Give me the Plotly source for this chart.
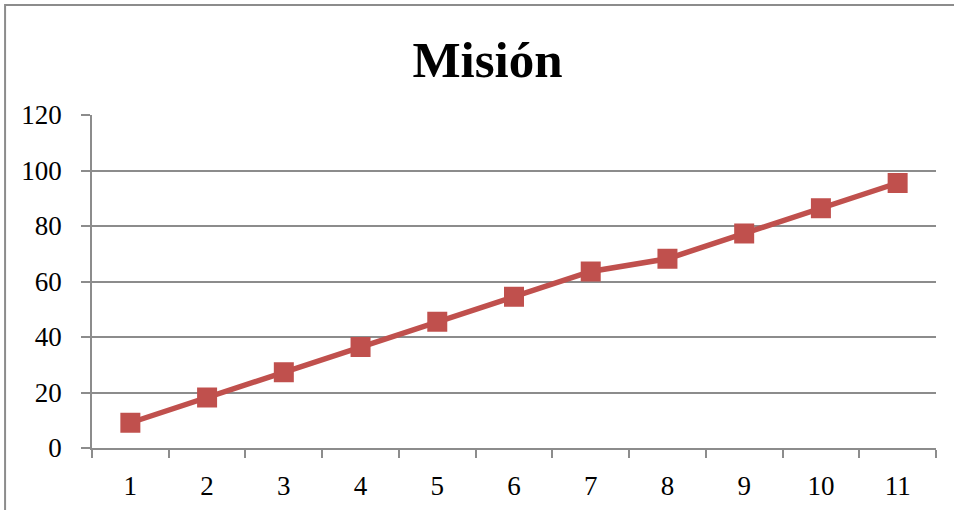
import plotly.graph_objects as go

# Mission progress by period
periods = ["1", "2", "3", "4", "5", "6", "7", "8", "9", "10", "11"]
mision = [9.1, 18.2, 27.3, 36.4, 45.5, 54.5, 63.6, 68.2, 77.3, 86.4, 95.5]
y_ticks = [0, 20, 40, 60, 80, 100, 120]

LINE_RED = "#C0504D"
GRID = "#8c8c8c"
SERIF = "Liberation Serif, Cambria, DejaVu Serif, serif"

fig = go.Figure(
    go.Scatter(
        x=periods,
        y=mision,
        mode="lines+markers",
        line=dict(color=LINE_RED, width=5.5),
        marker=dict(symbol="square", size=20, color=LINE_RED),
        showlegend=False,
        hoverinfo="x+y",
    )
)

fig.update_layout(
    width=954,
    height=510,
    margin=dict(l=92, r=18, t=115, b=62, autoexpand=False),
    paper_bgcolor="white",
    plot_bgcolor="white",
    title=dict(
        text="<b>Misión</b>",
        x=0.511,
        xanchor="center",
        y=0.885,
        yanchor="middle",
        font=dict(family=SERIF, size=51, color="black"),
    ),
    font=dict(family=SERIF, size=27, color="black"),
    # chart frame (top and left edges)
    shapes=[
        dict(
            type="rect",
            xref="paper",
            yref="paper",
            x0=-0.103,
            x1=1.2,
            y0=-0.5,
            y1=1.330,
            line=dict(color=GRID, width=2),
            fillcolor="rgba(0,0,0,0)",
            layer="below",
        )
    ],
)

fig.update_xaxes(
    type="category",
    range=[-0.5, len(periods) - 0.5],
    automargin=False,
    tickson="boundaries",
    ticks="outside",
    ticklen=8,
    tickwidth=1.5,
    tickcolor=GRID,
    showline=True,
    linecolor=GRID,
    linewidth=1.5,
    showgrid=False,
    ticklabelstandoff=13,
    tickfont=dict(family=SERIF, size=27, color="black"),
)

fig.update_yaxes(
    range=[0, 120],
    tickvals=y_ticks,
    automargin=False,
    ticks="outside",
    ticklen=9,
    tickwidth=1.5,
    tickcolor=GRID,
    showline=True,
    linecolor=GRID,
    linewidth=1.5,
    showgrid=True,
    gridcolor=GRID,
    gridwidth=1.5,
    zeroline=False,
    ticklabelstandoff=14,
    tickfont=dict(family=SERIF, size=27, color="black"),
)

fig.write_html("out.html")
